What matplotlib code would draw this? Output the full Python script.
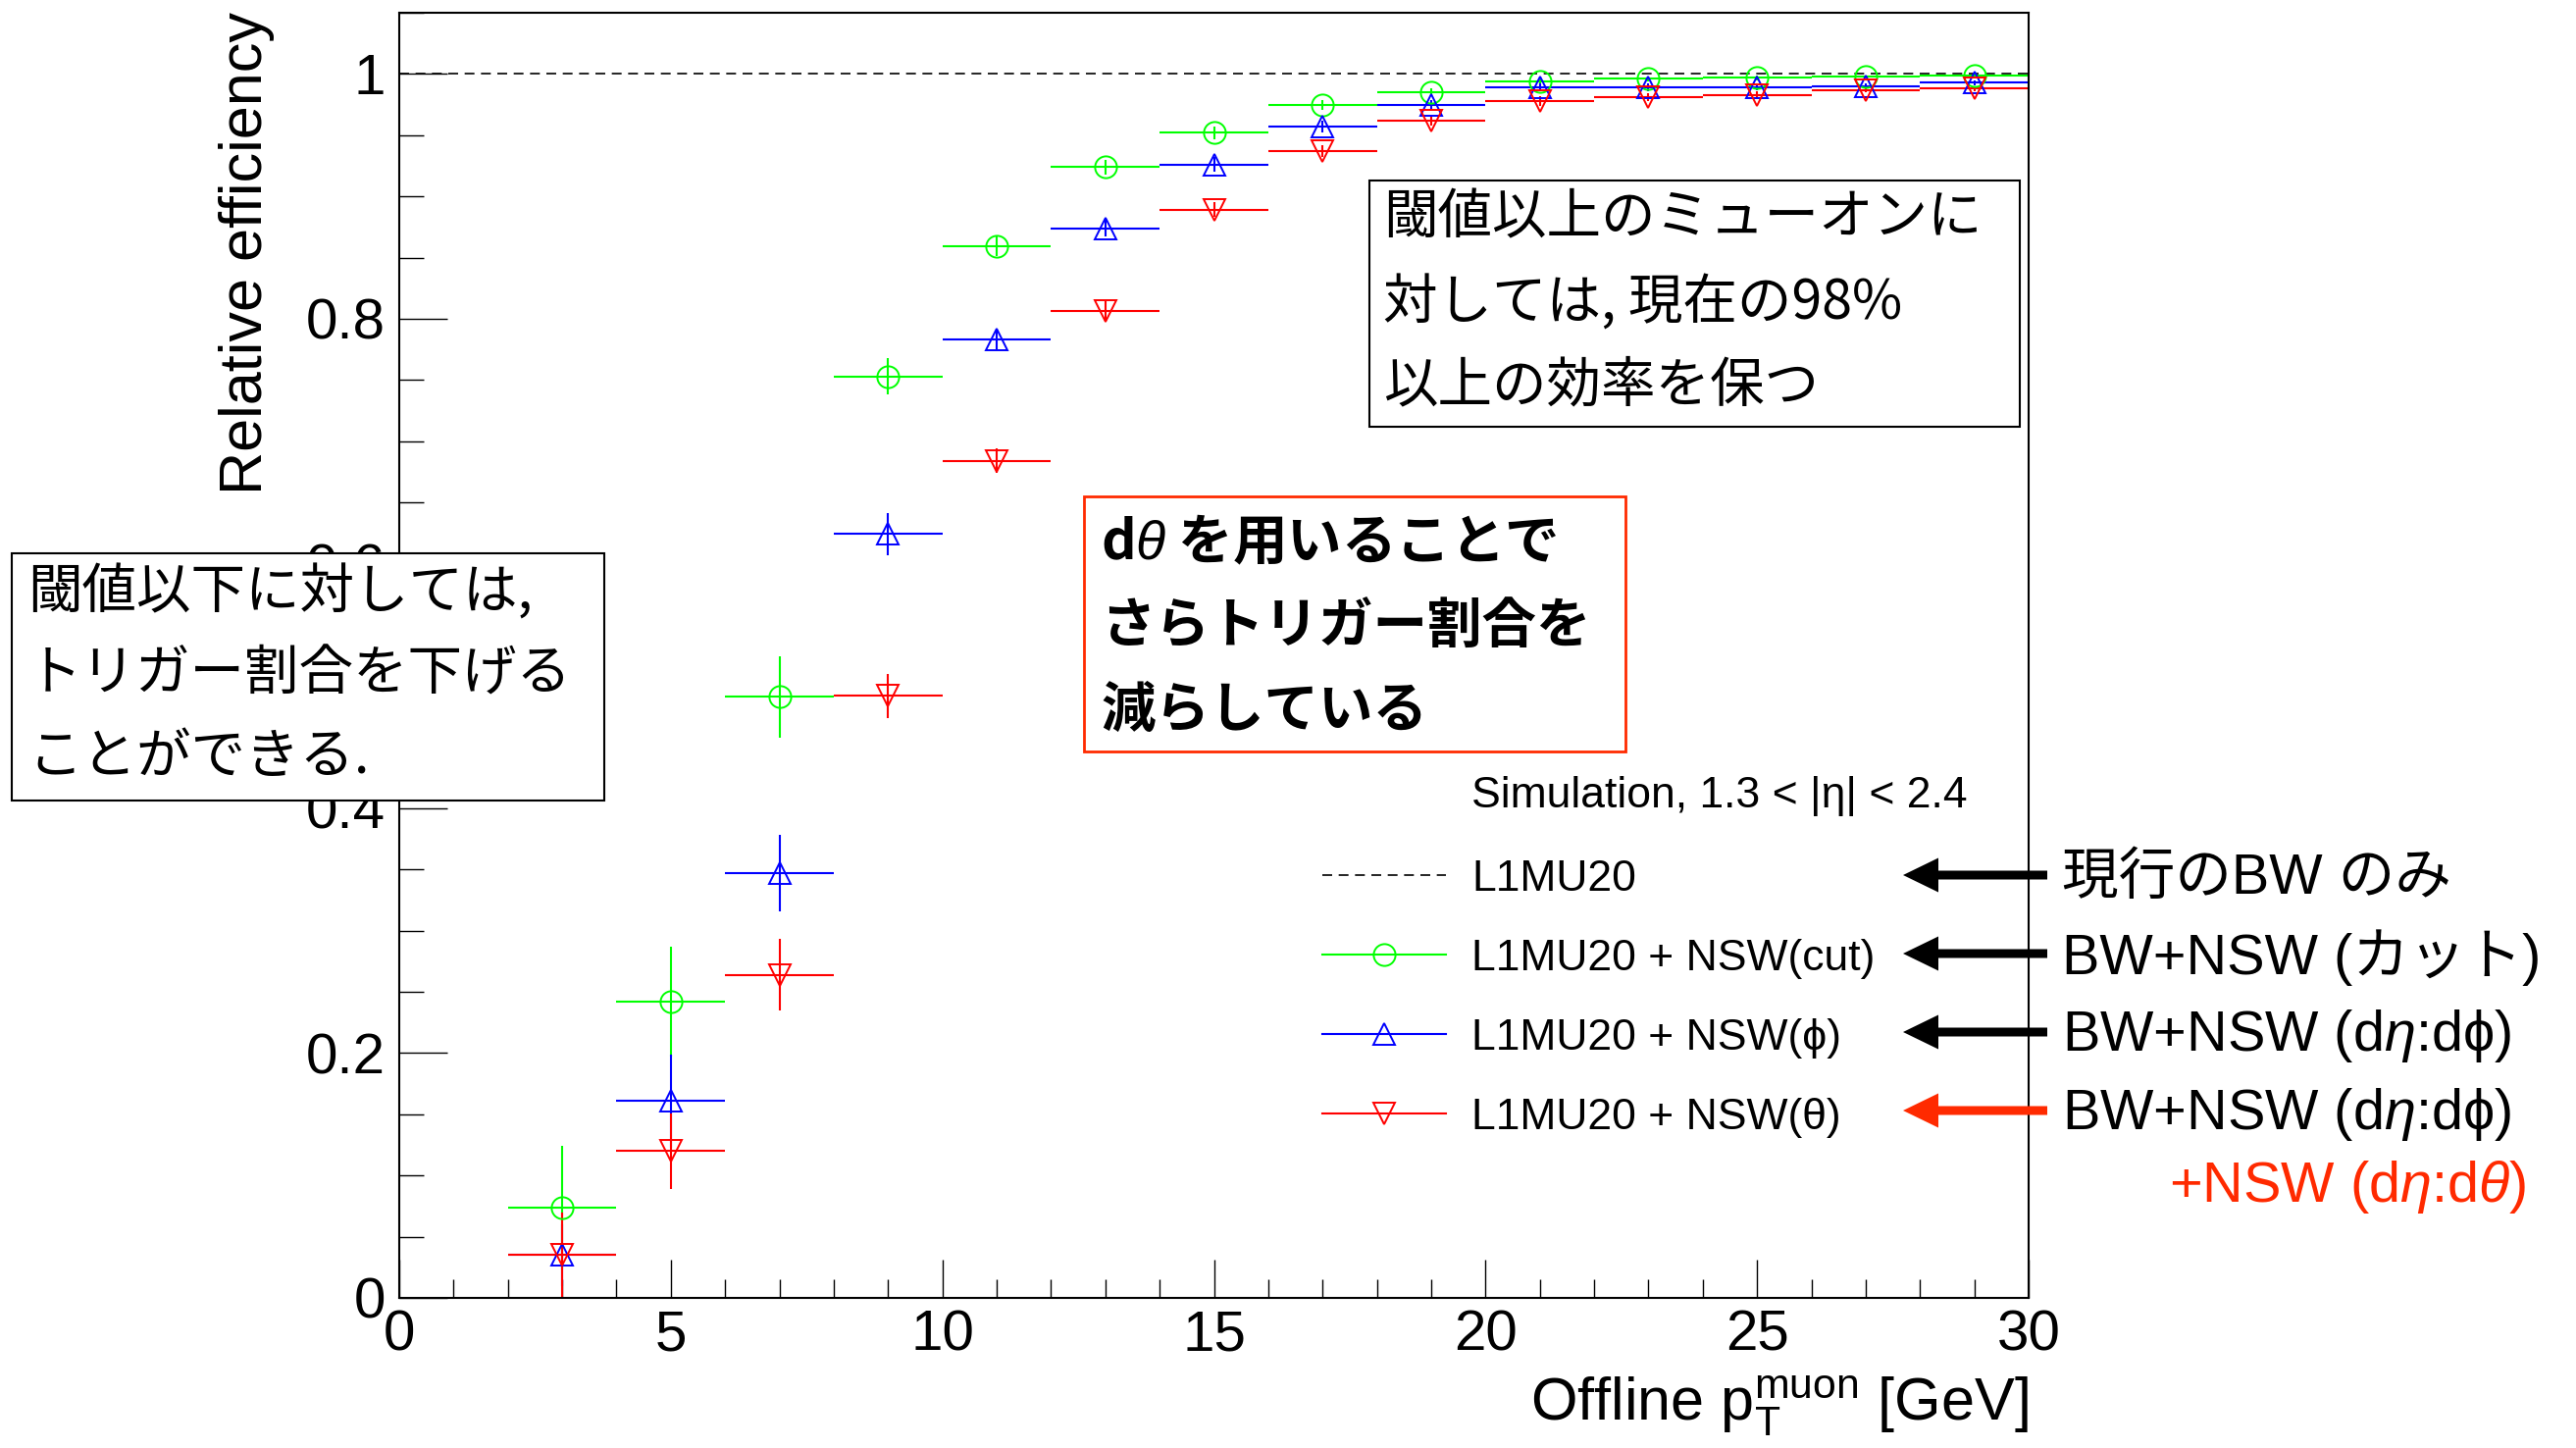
import matplotlib
matplotlib.use("Agg")
import matplotlib.pyplot as plt
import matplotlib.transforms as mtransforms
from matplotlib.lines import Line2D
from matplotlib.patches import Rectangle, FancyArrow
from matplotlib.ticker import MultipleLocator, FuncFormatter

W, H = 2626, 1476
DPI = 100

plt.rcParams['font.family'] = ['Liberation Sans', 'Noto Sans CJK JP', 'DejaVu Sans']
plt.rcParams['mathtext.fontset'] = 'custom'
plt.rcParams['mathtext.rm'] = 'Liberation Sans'
plt.rcParams['mathtext.it'] = 'Liberation Sans:italic'
plt.rcParams['mathtext.bf'] = 'Liberation Sans:bold'

# pT bins (GeV)
pt_center = [3, 5, 7, 9, 11, 13, 15, 17, 19, 21, 23, 25, 27, 29]
pt_halfwidth = [1, 1, 1, 1, 1, 1, 1, 1, 1, 1, 1, 1, 1, 1]

# efficiency relative to L1MU20
eff_cut = [0.074, 0.242, 0.491, 0.753, 0.859, 0.924, 0.952, 0.975, 0.985, 0.994, 0.996, 0.997, 0.998, 0.999]
err_cut = [0.050, 0.045, 0.033, 0.015, 0.008, 0.006, 0.005, 0.004, 0.003, 0.002, 0.002, 0.002, 0.001, 0.001]

eff_phi = [0.035, 0.161, 0.347, 0.624, 0.783, 0.874, 0.926, 0.957, 0.975, 0.989, 0.989, 0.989, 0.990, 0.993]
err_phi = [0.025, 0.038, 0.031, 0.017, 0.008, 0.007, 0.006, 0.005, 0.004, 0.003, 0.003, 0.002, 0.002, 0.002]

eff_theta = [0.035, 0.120, 0.264, 0.492, 0.684, 0.806, 0.889, 0.937, 0.962, 0.978, 0.981, 0.983, 0.987, 0.988]
err_theta = [0.035, 0.031, 0.029, 0.018, 0.010, 0.008, 0.006, 0.005, 0.004, 0.004, 0.003, 0.003, 0.002, 0.002]

l1mu20_level = 1.0

GREEN = '#00ff00'
BLUE = '#0000ff'
RED = '#ff0000'
NOTE_RED = '#ff2a00'

series = [
    (eff_cut, err_cut, GREEN, 'o', 'L1MU20 + NSW(cut)'),
    (eff_phi, err_phi, BLUE, '^', 'L1MU20 + NSW(ϕ)'),
    (eff_theta, err_theta, RED, 'v', 'L1MU20 + NSW(θ)'),
]

side_notes = ['現行のBW のみ', 'BW+NSW (カット)', r'BW+NSW (d$\eta$:d$\mathrm{\phi}$)', r'BW+NSW (d$\eta$:d$\mathrm{\phi}$)']
side_colors = ['black', 'black', 'black', NOTE_RED]


def fx(px):
    return px / W


def fy(py):
    return 1 - py / H


fig = plt.figure(figsize=(W / DPI, H / DPI), dpi=DPI)
ax = fig.add_axes([fx(407), fy(1323), (2068 - 407) / W, (1323 - 13) / H])

ax.axhline(l1mu20_level, color='black', lw=1.2, ls=(0, (6, 4)), zorder=1)

for eff, err, color, marker, label in series:
    ax.errorbar(pt_center, eff, xerr=pt_halfwidth, yerr=err, fmt=marker,
                color=color, mfc='none', mec=color, ms=16, mew=1.4,
                elinewidth=1.5, capsize=0, zorder=2)

ax.set_xlim(0, 30)
ax.set_ylim(0, 1.05)
ax.xaxis.set_major_locator(MultipleLocator(5))
ax.xaxis.set_minor_locator(MultipleLocator(1))
ax.yaxis.set_major_locator(MultipleLocator(0.2))
ax.yaxis.set_minor_locator(MultipleLocator(0.05))
ax.xaxis.set_major_formatter(FuncFormatter(lambda v, _: f"{v:g}"))
ax.yaxis.set_major_formatter(FuncFormatter(lambda v, _: f"{v:g}"))
ax.tick_params(which='both', direction='in', top=False, right=False, width=1.0)
ax.tick_params(axis='x', which='major', length=28, pad=8, labelsize=42)
ax.tick_params(axis='x', which='minor', length=14)
ax.tick_params(axis='y', which='major', length=35, pad=10, labelsize=42)
ax.tick_params(axis='y', which='minor', length=18)
for sp in ax.spines.values():
    sp.set_linewidth(1.5)

fig.text(fx(252), fy(12), 'Relative efficiency', rotation=90, ha='center', va='top', fontsize=44)
fig.text(fx(2068), fy(1448), r'Offline p$_{\mathrm{T}}^{\mathrm{muon}}$ [GeV]',
         ha='right', va='baseline', fontsize=44)

# legend
handles = [Line2D([], [], color='black', lw=1.2, ls=(0, (6, 4)))]
labels = ['L1MU20']
for eff, err, color, marker, label in series:
    handles.append(Line2D([], [], color=color, lw=1.5, marker=marker, ms=16,
                          mfc='none', mec=color, mew=1.4))
    labels.append(label)
ax.legend(handles, labels, loc='upper left', bbox_to_anchor=(fx(1348), fy(876)),
          bbox_transform=fig.transFigure, frameon=False, fontsize=32,
          handlelength=2.84, handletextpad=0.59, labelspacing=0.9,
          borderpad=0, borderaxespad=0, numpoints=1)
fig.text(fx(1500), fy(811), 'Simulation, 1.3 < |η| < 2.4', ha='left', va='center', fontsize=32)

# comment boxes
cjk = ['Noto Sans CJK JP', 'DejaVu Sans']


def note_box(x0, y0, x1, y1, edge, lw, lines, tx, ty, weight='normal'):
    fig.add_artist(Rectangle((fx(x0), fy(y1)), fx(x1) - fx(x0), fy(y0) - fy(y1),
                             transform=fig.transFigure, facecolor='white',
                             edgecolor=edge, lw=lw, zorder=5))
    for text, yy in zip(lines, ty):
        fig.text(fx(tx), fy(yy), text, ha='left', va='center', fontsize=40,
                 family=cjk, weight=weight, zorder=6)


note_box(1396, 184, 2059, 435, 'black', 1.5,
         ['閾値以上のミューオンに', '対しては, 現在の98%', '以上の効率を保つ'],
         1410, [223, 310, 394])
note_box(12, 564, 616, 816, 'black', 1.5,
         ['閾値以下に対しては,', 'トリガー割合を下げる', 'ことができる.'],
         28, [605, 688, 772])
note_box(1105, 506, 1657, 766, NOTE_RED, 2.0,
         [r'd$\theta$ を用いることで', 'さらトリガー割合を', '減らしている'],
         1122, [554, 640, 725], weight='bold')

# arrows pointing at legend rows, with descriptions
row_y = [892, 972, 1052, 1132]
for yy, text, color in zip(row_y, side_notes, side_colors):
    arr = FancyArrow(2087, H - yy, -(2087 - 1940), 0, width=9, head_width=35,
                     head_length=36, length_includes_head=True, color=color,
                     lw=0, transform=mtransforms.IdentityTransform(), zorder=7)
    fig.add_artist(arr)
    fig.text(fx(2102), fy(yy + 4), text, ha='left', va='center', fontsize=41.5, color='black')
fig.text(fx(2575), fy(1210), r'+NSW (d$\eta$:d$\theta$)', ha='right', va='center',
         fontsize=41.5, color=NOTE_RED)

fig.savefig('out.png', dpi=DPI)
